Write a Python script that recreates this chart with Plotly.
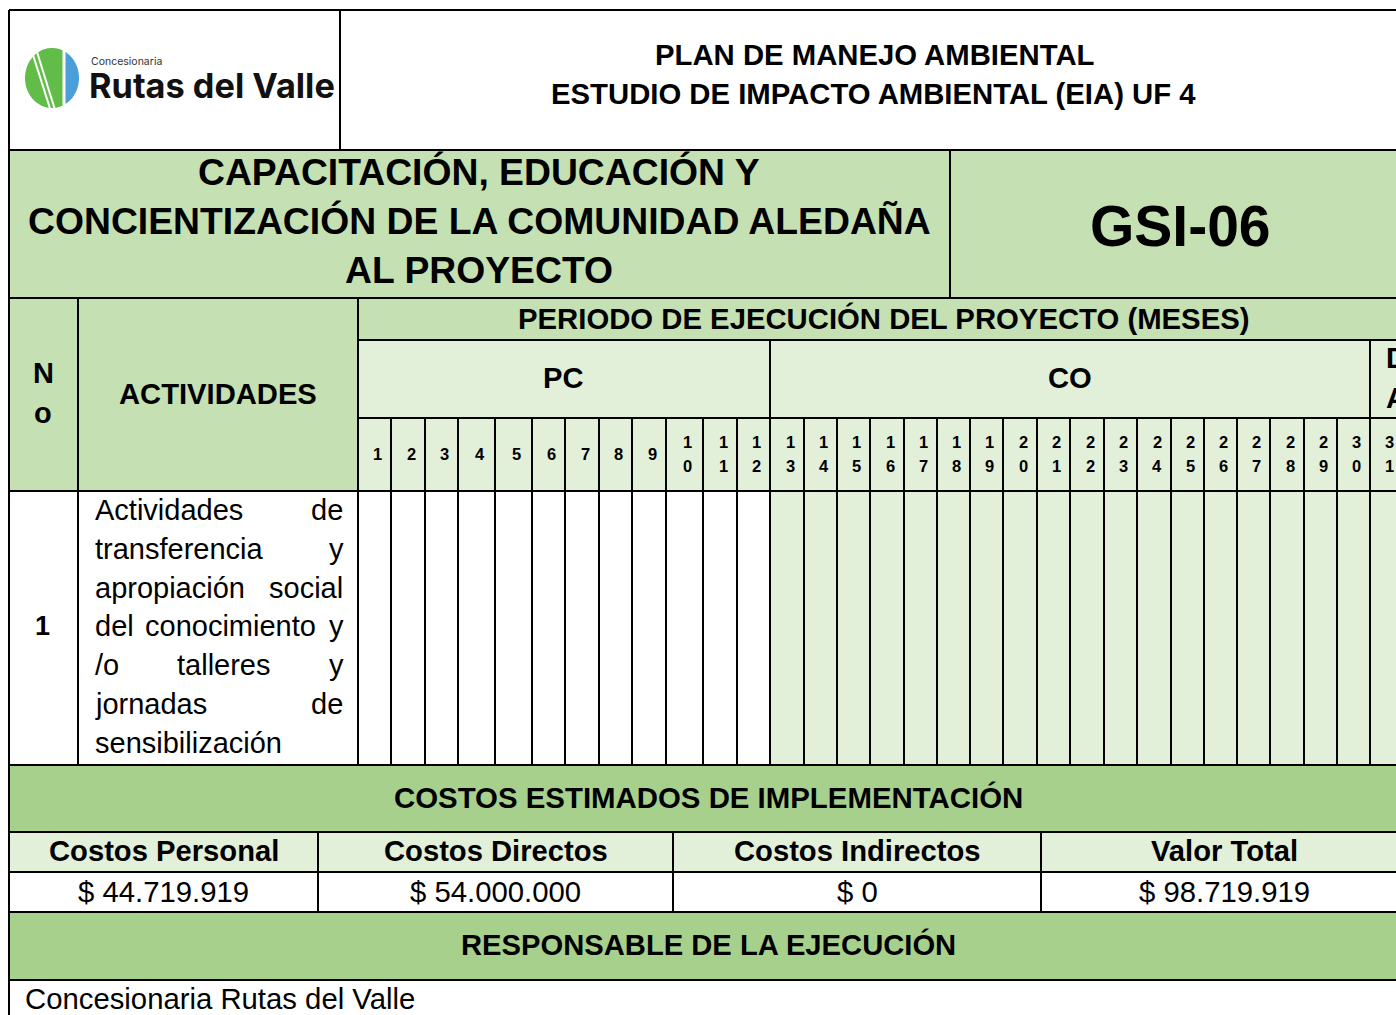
import numpy as np
import plotly.graph_objects as go

W, H = 1396, 1015
ARIAL = "Liberation Sans, Arial, sans-serif"
LOGO_FONT = "Inter, Lato, sans-serif"

GREEN_MID = "#C5E0B3"
GREEN_LIGHT = "#E2EFD9"
GREEN_DARK = "#A8D08D"
LOGO_GREEN = "#62BD48"
LOGO_BLUE = "#4A9FD8"

# ---------------- data ----------------
logo_small = "Concesionaria"
logo_big = "Rutas del Valle"
doc_header = ["PLAN DE MANEJO AMBIENTAL", "ESTUDIO DE IMPACTO AMBIENTAL (EIA) UF 4"]
program_title = ["CAPACITACIÓN, EDUCACIÓN Y",
                 "CONCIENTIZACIÓN DE LA COMUNIDAD ALEDAÑA",
                 "AL PROYECTO"]
program_code = "GSI-06"
period_title = "PERIODO DE EJECUCIÓN DEL PROYECTO (MESES)"
no_header = ["N", "o"]
activities_header = "ACTIVIDADES"
phases = ["PC", "CO", "DA"]
phase_month_count = [12, 18, 1]
months = ["1", "2", "3", "4", "5", "6", "7", "8", "9", "10", "11", "12",
          "13", "14", "15", "16", "17", "18", "19", "20", "21", "22", "23",
          "24", "25", "26", "27", "28", "29", "30", "31"]
activity_no = "1"
activity_lines = [["Actividades", "de"],
                  ["transferencia", "y"],
                  ["apropiación", "social"],
                  ["del", "conocimiento", "y"],
                  ["/o", "talleres", "y"],
                  ["jornadas", "de"],
                  ["sensibilización"]]
costs_title = "COSTOS ESTIMADOS DE IMPLEMENTACIÓN"
cost_labels = ["Costos Personal", "Costos Directos", "Costos Indirectos", "Valor Total"]
cost_values = ["$ 44.719.919", "$ 54.000.000", "$ 0", "$ 98.719.919"]
resp_title = "RESPONSABLE DE LA EJECUCIÓN"
responsible = "Concesionaria Rutas del Valle"

# ---------------- layout geometry (pixels) ----------------
XL = 9
XR = 1420
row_y = dict(top=10, title=150, period=298, phase=340, month=418, act=491,
             costs=765, clab=832, cval=872, resp=912, last=980)
col_no = 78
col_act = 358
col_head = 340
col_code = 950
month_edges = [357, 391, 425, 458, 495, 532, 565, 599, 632, 666, 703, 737, 770,
               804, 837, 870, 904, 937, 970, 1003, 1037, 1070, 1104, 1137, 1171,
               1204, 1237, 1270, 1304, 1337, 1370, 1403]
cost_edges = [XL, 318, 673, 1041, 1407]

shapes = []
ann = []


def rect(x0, y0, x1, y1, fill):
    shapes.append(dict(type="rect", xref="x", yref="y", x0=x0, y0=y0, x1=x1, y1=y1,
                       fillcolor=fill, line=dict(width=0)))


def hline(y, x0, x1, w=2):
    shapes.append(dict(type="line", xref="x", yref="y", x0=x0, x1=x1, y0=y, y1=y,
                       line=dict(color="black", width=w)))


def vline(x, y0, y1, w=2):
    shapes.append(dict(type="line", xref="x", yref="y", x0=x, x1=x, y0=y0, y1=y1,
                       line=dict(color="black", width=w)))


def txt(x, y, s, size, bold=False, family=ARIAL, anchor="center", color="black"):
    ann.append(dict(x=x, y=y, xref="x", yref="y", text=s, showarrow=False,
                    xanchor=anchor, yanchor="middle", borderpad=0,
                    font=dict(family=family, size=size, color=color,
                              weight="bold" if bold else "normal")))


# ---------------- fills ----------------
rect(XL, row_y["title"], XR, row_y["phase"], GREEN_MID)
rect(XL, row_y["phase"], col_act, row_y["act"], GREEN_MID)
rect(col_act, row_y["phase"], XR, row_y["act"], GREEN_LIGHT)
pc_end = month_edges[phase_month_count[0]]
rect(pc_end, row_y["act"], XR, row_y["costs"], GREEN_LIGHT)
rect(XL, row_y["costs"], XR, row_y["clab"], GREEN_DARK)
rect(XL, row_y["clab"], XR, row_y["cval"], GREEN_LIGHT)
rect(XL, row_y["resp"], XR, row_y["last"], GREEN_DARK)

# ---------------- logo ----------------
cx, cy, rx, ry = 52, 78, 27, 30
th0 = np.arccos((62.5 - cx) / rx)
t = np.linspace(th0, 2 * np.pi - th0, 80)
pts = " L ".join(f"{cx + rx*np.cos(a):.2f},{cy + ry*np.sin(a):.2f}" for a in t)
shapes.append(dict(type="path", xref="x", yref="y", path="M " + pts + " Z",
                   fillcolor=LOGO_GREEN, line=dict(width=0)))
th1 = np.arccos((65.5 - cx) / rx)
t = np.linspace(-th1, th1, 60)
pts = " L ".join(f"{cx + rx*np.cos(a):.2f},{cy + ry*np.sin(a):.2f}" for a in t)
shapes.append(dict(type="path", xref="x", yref="y", path="M " + pts + " Z",
                   fillcolor=LOGO_BLUE, line=dict(width=0)))
for (x0, y0, x1, y1) in [(30.5, 47, 50.5, 110), (35.0, 45.5, 55.0, 110)]:
    shapes.append(dict(type="line", xref="x", yref="y", x0=x0, y0=y0, x1=x1, y1=y1,
                       line=dict(color="white", width=2)))
txt(90, 61, logo_small, 10.5, family=LOGO_FONT, anchor="left", color="#333333")
txt(88, 85, logo_big, 34.3, bold=True, family=LOGO_FONT, anchor="left", color="#111111")

# ---------------- grid lines ----------------
for key in ["top", "title", "period", "act", "costs", "clab", "cval", "resp", "last"]:
    hline(row_y[key], XL, XR)
hline(row_y["phase"], col_act, XR)
hline(row_y["month"], col_act, XR)
vline(XL, row_y["top"], H + 10)
vline(col_head, row_y["top"], row_y["title"])
vline(col_code, row_y["title"], row_y["period"])
vline(col_no, row_y["period"], row_y["costs"])
vline(col_act, row_y["period"], row_y["costs"])
idx = 0
for n in phase_month_count[:-1]:
    idx += n
    vline(month_edges[idx], row_y["phase"], row_y["costs"])
for e in month_edges[1:]:
    vline(e, row_y["month"], row_y["costs"])
for e in cost_edges[1:-1]:
    vline(e, row_y["clab"], row_y["resp"])

# ---------------- texts ----------------
txt(874, 54, doc_header[0], 29.3, bold=True)
txt(873, 93, doc_header[1], 29.3, bold=True)
for i, line in enumerate(program_title):
    txt(479, 172 + 49 * i, line, 37.3, bold=True)
txt(1180, 226, program_code, 57, bold=True)
txt(883, 318, period_title, 29.3, bold=True)
txt(43, 373, no_header[0], 29, bold=True)
txt(43, 413, no_header[1], 29, bold=True)
txt(218, 394, activities_header, 29.2, bold=True)

start = 0
for name, n in zip(phases, phase_month_count):
    x0 = month_edges[start]
    x1 = month_edges[start + n]
    if name == "DA":
        txt(x0 + 15, 358, name[0], 29, bold=True, anchor="left")
        txt(x0 + 15, 398, name[1], 29, bold=True, anchor="left")
    else:
        txt((x0 + x1) / 2, 378, name, 29.2, bold=True)
    start += n

for i, m in enumerate(months):
    xc = (month_edges[i] + month_edges[i + 1]) / 2 + 3
    if len(m) == 1:
        txt(xc, 454, m, 16.5, bold=True)
    else:
        txt(xc, 442, m[0], 16.5, bold=True)
        txt(xc, 466, m[1], 16.5, bold=True)

txt(42, 626, activity_no, 27, bold=True)
AW = {"A": 667, "a": 556, "b": 556, "c": 500, "d": 556, "e": 556, "f": 278, "i": 222,
      "j": 222, "l": 222, "m": 833, "n": 556, "o": 556, "ó": 556, "p": 556, "r": 333,
      "s": 500, "t": 278, "v": 500, "y": 500, "z": 500, "/": 278, " ": 278}
FS = 29
TL, TR = 93.5, 342


def wwidth(w):
    return sum(AW.get(c, 556) for c in w) / 1000 * FS


for i, words in enumerate(activity_lines):
    y = 510 + 38.8 * i
    if len(words) == 1:
        txt(TL, y, words[0], FS, anchor="left")
        continue
    widths = [wwidth(w) for w in words]
    gap = (TR - TL - sum(widths)) / (len(words) - 1)
    x = TL
    for w, wd in zip(words, widths):
        txt(x, y, w, FS, anchor="left")
        x += wd + gap

txt(708, 797, costs_title, 29.4, bold=True)
for i, (lab, val) in enumerate(zip(cost_labels, cost_values)):
    xc = (cost_edges[i] + cost_edges[i + 1]) / 2
    txt(xc, 851, lab, 29.2, bold=True)
    txt(xc, 891, val, 29.3)
txt(708, 944, resp_title, 29.2, bold=True)
txt(23.5, 998, responsible, 29.3, anchor="left")

fig = go.Figure()
fig.add_trace(go.Scatter(x=[0, W], y=[0, H], mode="markers",
                         marker=dict(opacity=0), hoverinfo="skip", showlegend=False))
fig.update_layout(
    width=W, height=H,
    margin=dict(l=0, r=0, t=0, b=0),
    paper_bgcolor="white", plot_bgcolor="white",
    xaxis=dict(range=[0, W], visible=False, fixedrange=True),
    yaxis=dict(range=[H, 0], visible=False, fixedrange=True),
    shapes=shapes, annotations=ann, showlegend=False,
)
fig.write_html("out.html", config={"displayModeBar": False},
               post_script="document.body.style.margin='0';document.body.style.overflow='hidden';")
